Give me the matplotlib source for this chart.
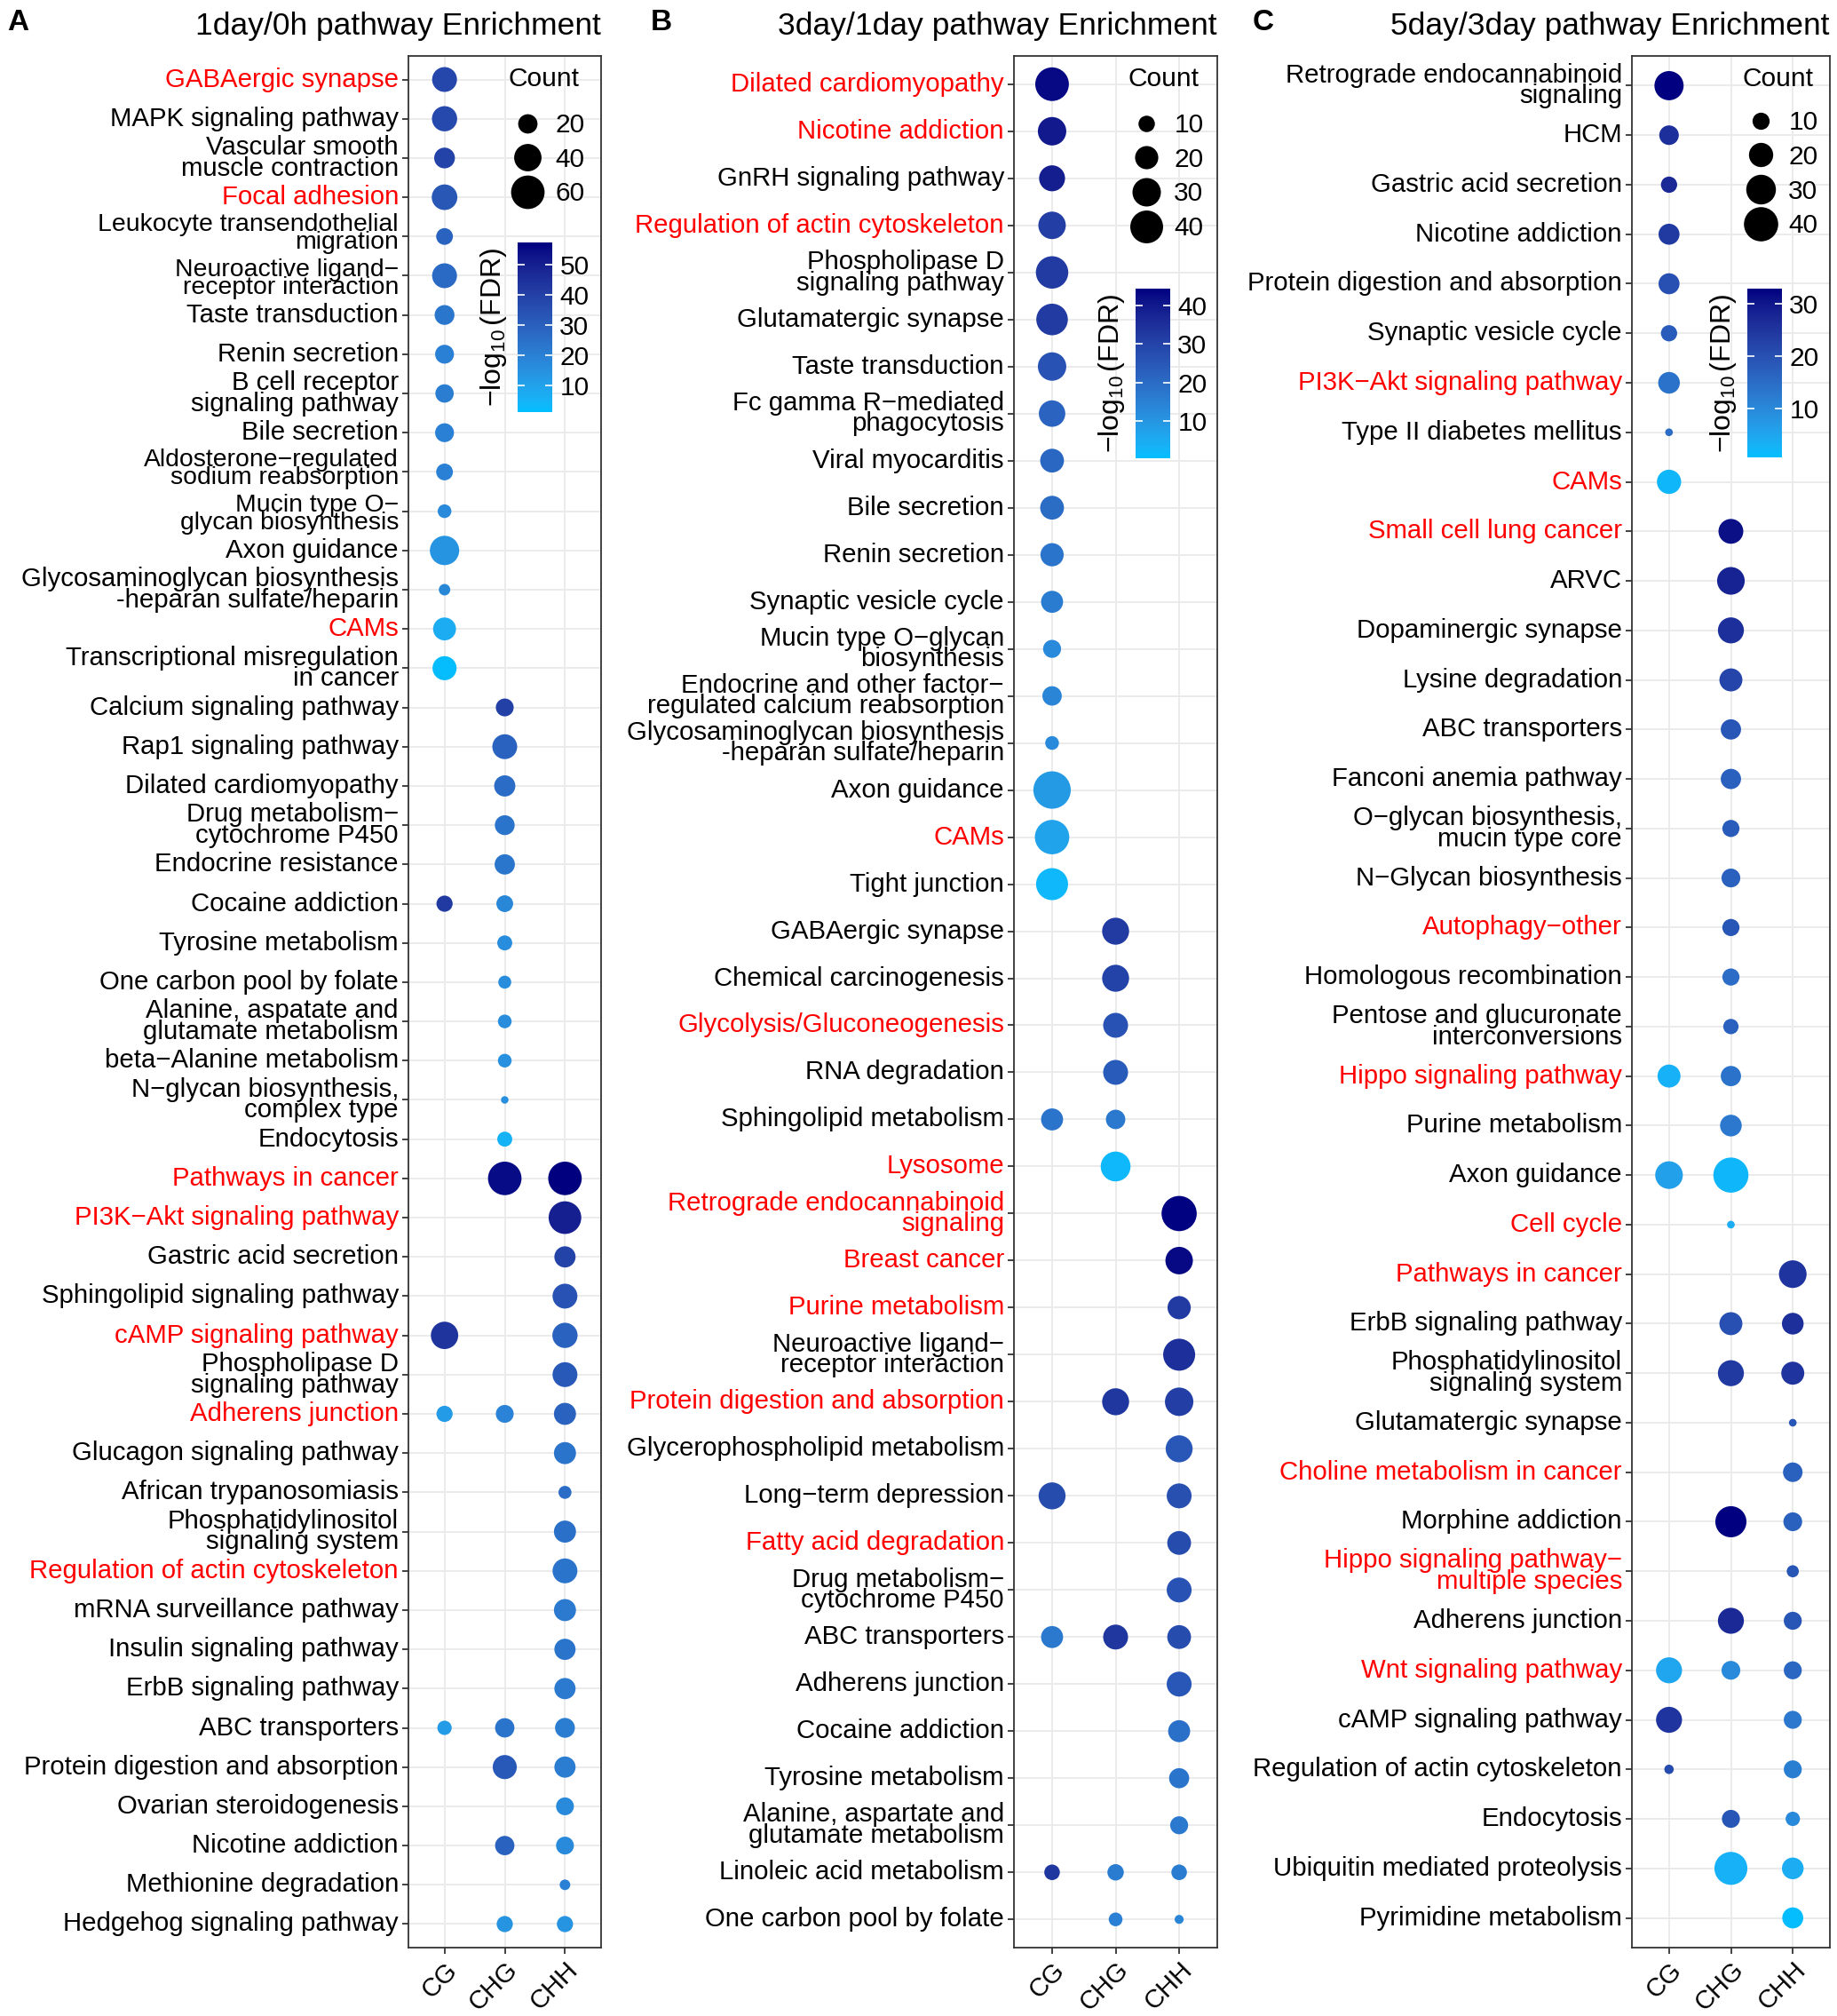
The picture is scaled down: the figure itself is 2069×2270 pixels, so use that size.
import numpy as np
import matplotlib
matplotlib.use('Agg')
import matplotlib.pyplot as plt
from matplotlib.colors import ListedColormap
from matplotlib.lines import Line2D
from matplotlib.transforms import ScaledTranslation

plt.rcParams['font.family'] = ['Liberation Sans', 'DejaVu Sans']
plt.rcParams['mathtext.fontset'] = 'custom'
plt.rcParams['mathtext.rm'] = 'Liberation Sans'
plt.rcParams['mathtext.it'] = 'Liberation Sans:italic'

M = '\u2212'
contexts = ['CG', 'CHG', 'CHH']

# ---------------- panel A: 1day/0h ----------------
labels_a = [
    'GABAergic synapse', 'MAPK signaling pathway', 'Vascular smooth\nmuscle contraction',
    'Focal adhesion', 'Leukocyte transendothelial\nmigration',
    f'Neuroactive ligand{M}\nreceptor interaction', 'Taste transduction', 'Renin secretion',
    'B cell receptor\nsignaling pathway', 'Bile secretion',
    f'Aldosterone{M}regulated\nsodium reabsorption', f'Mucin type O{M}\nglycan biosynthesis',
    'Axon guidance', 'Glycosaminoglycan biosynthesis\n-heparan sulfate/heparin', 'CAMs',
    'Transcriptional misregulation\nin cancer', 'Calcium signaling pathway',
    'Rap1 signaling pathway', 'Dilated cardiomyopathy', f'Drug metabolism{M}\ncytochrome P450',
    'Endocrine resistance', 'Cocaine addiction', 'Tyrosine metabolism',
    'One carbon pool by folate', 'Alanine, aspatate and\nglutamate metabolism',
    f'beta{M}Alanine metabolism', f'N{M}glycan biosynthesis,\ncomplex type', 'Endocytosis',
    'Pathways in cancer', f'PI3K{M}Akt signaling pathway', 'Gastric acid secretion',
    'Sphingolipid signaling pathway', 'cAMP signaling pathway',
    'Phospholipase D\nsignaling pathway', 'Adherens junction', 'Glucagon signaling pathway',
    'African trypanosomiasis', 'Phosphatidylinositol\nsignaling system',
    'Regulation of actin cytoskeleton', 'mRNA surveillance pathway',
    'Insulin signaling pathway', 'ErbB signaling pathway', 'ABC transporters',
    'Protein digestion and absorption', 'Ovarian steroidogenesis', 'Nicotine addiction',
    'Methionine degradation', 'Hedgehog signaling pathway',
]
red_a = [0, 3, 14, 28, 29, 32, 34, 38]
# (row, context, Count, -log10 FDR)
dots_a = [
    (0, 'CG', 33, 38), (1, 'CG', 34, 37), (2, 'CG', 23, 39), (3, 'CG', 35, 33),
    (4, 'CG', 15, 29), (5, 'CG', 33, 27), (6, 'CG', 21, 23), (7, 'CG', 19, 20),
    (8, 'CG', 18, 21), (9, 'CG', 19, 20), (10, 'CG', 15, 20), (11, 'CG', 10, 17),
    (12, 'CG', 46, 14), (13, 'CG', 7, 18), (14, 'CG', 28, 7), (15, 'CG', 31, 2),
    (16, 'CHG', 17, 40), (17, 'CHG', 33, 29), (18, 'CHG', 24, 26), (19, 'CHG', 21, 24),
    (20, 'CHG', 22, 23), (21, 'CG', 14, 42), (21, 'CHG', 15, 18), (22, 'CHG', 12, 16),
    (23, 'CHG', 9, 16), (24, 'CHG', 10, 16), (25, 'CHG', 10, 15), (26, 'CHG', 3, 15),
    (27, 'CHG', 12, 5), (28, 'CHG', 60, 55), (28, 'CHH', 60, 57), (29, 'CHH', 57, 50),
    (30, 'CHH', 24, 39), (31, 'CHH', 33, 34), (32, 'CG', 40, 44), (32, 'CHH', 34, 29),
    (33, 'CHH', 33, 32), (34, 'CG', 14, 12), (34, 'CHG', 17, 19), (34, 'CHH', 26, 29),
    (35, 'CHH', 26, 24), (36, 'CHH', 9, 26), (37, 'CHH', 26, 25), (38, 'CHH', 33, 24),
    (39, 'CHH', 26, 22), (40, 'CHH', 24, 24), (41, 'CHH', 24, 22), (42, 'CG', 11, 12),
    (42, 'CHG', 20, 24), (42, 'CHH', 21, 21), (43, 'CHG', 31, 32), (43, 'CHH', 24, 21),
    (44, 'CHH', 17, 17), (45, 'CHG', 20, 29), (45, 'CHH', 17, 17), (46, 'CHH', 6, 20),
    (47, 'CHG', 14, 14), (47, 'CHH', 14, 14),
]
fdr_range_a = (1.2, 57.4)
fdr_ticks_a = [10, 20, 30, 40, 50]
count_keys_a = [20, 40, 60]

# ---------------- panel B: 3day/1day ----------------
labels_b = [
    'Dilated cardiomyopathy', 'Nicotine addiction', 'GnRH signaling pathway',
    'Regulation of actin cytoskeleton', 'Phospholipase D\nsignaling pathway',
    'Glutamatergic synapse', 'Taste transduction', f'Fc gamma R{M}mediated\nphagocytosis',
    'Viral myocarditis', 'Bile secretion', 'Renin secretion', 'Synaptic vesicle cycle',
    f'Mucin type O{M}glycan\nbiosynthesis',
    f'Endocrine and other factor{M}\nregulated calcium reabsorption',
    'Glycosaminoglycan biosynthesis\n-heparan sulfate/heparin', 'Axon guidance', 'CAMs',
    'Tight junction', 'GABAergic synapse', 'Chemical carcinogenesis',
    'Glycolysis/Gluconeogenesis', 'RNA degradation', 'Sphingolipid metabolism', 'Lysosome',
    'Retrograde endocannabinoid\nsignaling', 'Breast cancer', 'Purine metabolism',
    f'Neuroactive ligand{M}\nreceptor interaction', 'Protein digestion and absorption',
    'Glycerophospholipid metabolism', f'Long{M}term depression', 'Fatty acid degradation',
    f'Drug metabolism{M}\ncytochrome P450', 'ABC transporters', 'Adherens junction',
    'Cocaine addiction', 'Tyrosine metabolism', 'Alanine, aspartate and\nglutamate metabolism',
    'Linoleic acid metabolism', 'One carbon pool by folate',
]
red_b = [0, 1, 3, 16, 20, 23, 24, 25, 26, 28, 31]
dots_b = [
    (0, 'CG', 42, 43), (1, 'CG', 30, 40), (2, 'CG', 25, 39), (3, 'CG', 28, 31),
    (4, 'CG', 39, 32), (5, 'CG', 37, 32), (6, 'CG', 30, 26), (7, 'CG', 26, 22),
    (8, 'CG', 21, 21), (9, 'CG', 21, 20), (10, 'CG', 20, 18), (11, 'CG', 18, 16),
    (12, 'CG', 12, 13), (13, 'CG', 14, 14), (14, 'CG', 7, 13), (15, 'CG', 52, 9),
    (16, 'CG', 44, 7), (17, 'CG', 38, 2), (18, 'CHG', 27, 32), (19, 'CHG', 27, 30),
    (20, 'CHG', 23, 26), (21, 'CHG', 23, 24), (22, 'CG', 18, 18), (22, 'CHG', 14, 17),
    (23, 'CHG', 33, 2), (24, 'CHH', 46, 44), (25, 'CHH', 28, 43), (26, 'CHH', 20, 32),
    (27, 'CHH', 38, 35), (28, 'CHG', 27, 33), (28, 'CHH', 30, 31), (29, 'CHH', 27, 25),
    (30, 'CG', 27, 28), (30, 'CHH', 23, 27), (31, 'CHH', 21, 28), (32, 'CHH', 23, 26),
    (33, 'CG', 18, 17), (33, 'CHG', 23, 33), (33, 'CHH', 21, 28), (34, 'CHH', 23, 25),
    (35, 'CHH', 18, 19), (36, 'CHH', 15, 18), (37, 'CHH', 12, 17), (38, 'CG', 9, 33),
    (38, 'CHG', 10, 16), (38, 'CHH', 9, 16), (39, 'CHG', 7, 15), (39, 'CHH', 3, 14),
]
fdr_range_b = (0.3, 44.4)
fdr_ticks_b = [10, 20, 30, 40]
count_keys_b = [10, 20, 30, 40]

# ---------------- panel C: 5day/3day ----------------
labels_c = [
    'Retrograde endocannabinoid\nsignaling', 'HCM', 'Gastric acid secretion',
    'Nicotine addiction', 'Protein digestion and absorption', 'Synaptic vesicle cycle',
    f'PI3K{M}Akt signaling pathway', 'Type II diabetes mellitus', 'CAMs',
    'Small cell lung cancer', 'ARVC', 'Dopaminergic synapse', 'Lysine degradation',
    'ABC transporters', 'Fanconi anemia pathway', f'O{M}glycan biosynthesis,\nmucin type core',
    f'N{M}Glycan biosynthesis', f'Autophagy{M}other', 'Homologous recombination',
    'Pentose and glucuronate\ninterconversions', 'Hippo signaling pathway',
    'Purine metabolism', 'Axon guidance', 'Cell cycle', 'Pathways in cancer',
    'ErbB signaling pathway', 'Phosphatidylinositol\nsignaling system',
    'Glutamatergic synapse', 'Choline metabolism in cancer', 'Morphine addiction',
    f'Hippo signaling pathway{M}\nmultiple species', 'Adherens junction',
    'Wnt signaling pathway', 'cAMP signaling pathway', 'Regulation of actin cytoskeleton',
    'Endocytosis', 'Ubiquitin mediated proteolysis', 'Pyrimidine metabolism',
]
red_c = [6, 8, 9, 17, 20, 23, 24, 28, 30, 32]
dots_c = [
    (0, 'CG', 29, 33), (1, 'CG', 13, 26), (2, 'CG', 9, 27), (3, 'CG', 15, 24),
    (4, 'CG', 15, 20), (5, 'CG', 9, 18), (6, 'CG', 16, 14), (7, 'CG', 2, 15),
    (8, 'CG', 20, 2), (9, 'CHG', 21, 31), (10, 'CHG', 26, 28), (11, 'CHG', 23, 26),
    (12, 'CHG', 18, 22), (13, 'CHG', 14, 19), (14, 'CHG', 14, 17), (15, 'CHG', 10, 18),
    (16, 'CHG', 12, 17), (17, 'CHG', 10, 19), (18, 'CHG', 10, 15), (19, 'CHG', 8, 17),
    (20, 'CG', 18, 3), (20, 'CHG', 14, 14), (21, 'CHG', 16, 13), (22, 'CG', 26, 6),
    (22, 'CHG', 42, 2), (23, 'CHG', 2, 4), (24, 'CHH', 26, 25), (25, 'CHG', 18, 20),
    (25, 'CHH', 16, 26), (26, 'CHG', 23, 24), (26, 'CHH', 18, 25), (27, 'CHH', 2, 19),
    (28, 'CHH', 13, 17), (29, 'CHG', 33, 33), (29, 'CHH', 12, 17), (30, 'CHH', 5, 19),
    (31, 'CHG', 23, 27), (31, 'CHH', 11, 19), (32, 'CG', 23, 5), (32, 'CHG', 12, 10),
    (32, 'CHH', 11, 16), (33, 'CG', 23, 25), (33, 'CHH', 11, 13), (34, 'CG', 3, 21),
    (34, 'CHH', 11, 12), (35, 'CHG', 11, 19), (35, 'CHH', 7, 10), (36, 'CHG', 37, 3),
    (36, 'CHH', 16, 4), (37, 'CHH', 15, 1),
]
fdr_range_c = (0.7, 32.9)
fdr_ticks_c = [10, 20, 30]
count_keys_c = [10, 20, 30, 40]


# colour scale: deepskyblue -> navy, interpolated in CIELAB like ggplot
_M = np.array([[0.4124, 0.3576, 0.1805], [0.2126, 0.7152, 0.0722], [0.0193, 0.1192, 0.9505]])
_W = np.array([0.95047, 1.0, 1.08883])


def to_lab(rgb):
    c = np.asarray(rgb, float)
    lin = np.where(c <= 0.04045, c / 12.92, ((c + 0.055) / 1.055) ** 2.4)
    xyz = _M @ lin / _W
    f = np.where(xyz > 0.008856, np.cbrt(xyz), 7.787 * xyz + 16 / 116)
    return np.array([116 * f[1] - 16, 500 * (f[0] - f[1]), 200 * (f[1] - f[2])])


def to_rgb(lab):
    fy = (lab[0] + 16) / 116
    f = np.array([fy + lab[1] / 500, fy, fy - lab[2] / 200])
    xyz = np.where(f > 0.2069, f ** 3, (f - 16 / 116) / 7.787) * _W
    lin = np.clip(np.linalg.inv(_M) @ xyz, 0, 1)
    return np.clip(np.where(lin <= 0.0031308, 12.92 * lin, 1.055 * lin ** (1 / 2.4) - 0.055), 0, 1)


lo, hi = to_lab([0, 191 / 255, 1]), to_lab([0, 0, 128 / 255])
cmap = ListedColormap([to_rgb(lo + t * (hi - lo)) for t in np.linspace(0, 1, 256)])

W, H = 2069, 2270
fig = plt.figure(figsize=(W / 100, H / 100), dpi=100)


def fx(px):
    return px / W


def fy(px):
    return 1 - px / H


def panel(labels, red, dots, vrange, vticks, keys, k, title, letter,
          ax_px, cb_px, leg_px, letter_x, tight=()):
    x0, x1 = ax_px
    ax = fig.add_axes([fx(x0), fy(2193), fx(x1 - x0), (2193 - 63) / H])
    n = len(labels)
    xs = [contexts.index(d[1]) for d in dots]
    ys = [d[0] for d in dots]
    ss = [k * d[2] for d in dots]
    cs = [d[3] for d in dots]
    sc = ax.scatter(xs, ys, s=ss, c=cs, cmap=cmap, vmin=vrange[0], vmax=vrange[1],
                    linewidths=0, zorder=3)
    ax.set_xlim(-0.6, 2.6)
    ax.set_ylim(n - 1 + 0.6, -0.6)
    ax.set_xticks(range(3))
    ax.set_xticklabels(contexts, rotation=45, ha='right', rotation_mode='anchor')
    ax.set_yticks(range(n))
    ax.set_yticklabels(labels, linespacing=0.8)
    ax.grid(True, color='#EBEBEB', lw=1.4)
    ax.set_axisbelow(True)
    for s in ax.spines.values():
        s.set_color('#333333')
        s.set_linewidth(1.3)
    ax.tick_params(length=5, width=1.3, color='#333333', labelsize=21.2, pad=3)
    ax.tick_params(axis='x', labelsize=21)
    ylabs = ax.get_yticklabels()
    for i, t in enumerate(ylabs):
        t.set_verticalalignment('center')
        if i in red:
            t.set_color('#FF0000')
    # two wrapped labels on neighbouring rows: squeeze them a little apart
    for up, down in tight:
        for idx, dy in ((up, 3.5), (down, -3.5)):
            t = ylabs[idx]
            t.set_fontsize(20.4)
            t.set_linespacing(0.72)
            t.set_transform(t.get_transform() +
                            ScaledTranslation(0, dy / 100, fig.dpi_scale_trans))

    # size legend: title as its own text, keys below it
    fig.text(fx(leg_px[0]), fy(89), 'Count', ha='left', va='center', fontsize=21.5)
    handles = [Line2D([], [], ls='none', marker='o', ms=np.sqrt(k * v), mfc='black',
                      mec='black', mew=0) for v in keys]
    ax.legend(handles, [str(v) for v in keys], loc='upper left',
              bbox_to_anchor=(fx(leg_px[0]), fy(leg_px[1])), bbox_transform=fig.transFigure,
              frameon=False, fontsize=21.5, borderpad=0, borderaxespad=0,
              handlelength=1.4, handletextpad=0.35, labelspacing=0.36)

    # colour bar
    cx0, cy0, cx1, cy1 = cb_px
    cax = fig.add_axes([fx(cx0), fy(cy1), fx(cx1 - cx0), (cy1 - cy0) / H])
    cb = fig.colorbar(sc, cax=cax, ticks=vticks)
    cb.outline.set_visible(False)
    cax.tick_params(direction='in', length=6, width=1.2, color='white', left=True,
                    right=True, labelsize=21.5, pad=6)
    cax.yaxis.set_label_position('left')
    cb.set_label(r'$-\mathrm{log}_{10}\,(\mathrm{FDR})$', fontsize=23, labelpad=7)

    fig.text(fx(x1), fy(30), title, ha='right', va='center', fontsize=25.5)
    fig.text(fx(letter_x), fy(26), letter, ha='left', va='center', fontsize=24,
             fontweight='bold')


panel(labels_a, red_a, dots_a, fdr_range_a, fdr_ticks_a, count_keys_a, 12.3,
      '1day/0h pathway Enrichment', 'A', (460, 677), (583, 273, 622, 464), (573, 127), 8,
      tight=[(4, 5), (10, 11)])
panel(labels_b, red_b, dots_b, fdr_range_b, fdr_ticks_b, count_keys_b, 17.7,
      '3day/1day pathway Enrichment', 'B', (1142, 1371), (1279, 325, 1318, 516),
      (1270, 127), 733)
panel(labels_c, red_c, dots_c, fdr_range_c, fdr_ticks_c, count_keys_c, 19.3,
      '5day/3day pathway Enrichment', 'C', (1838, 2061), (1968, 325, 2007, 515),
      (1962, 124), 1411)

fig.savefig('out.png', dpi=100)
